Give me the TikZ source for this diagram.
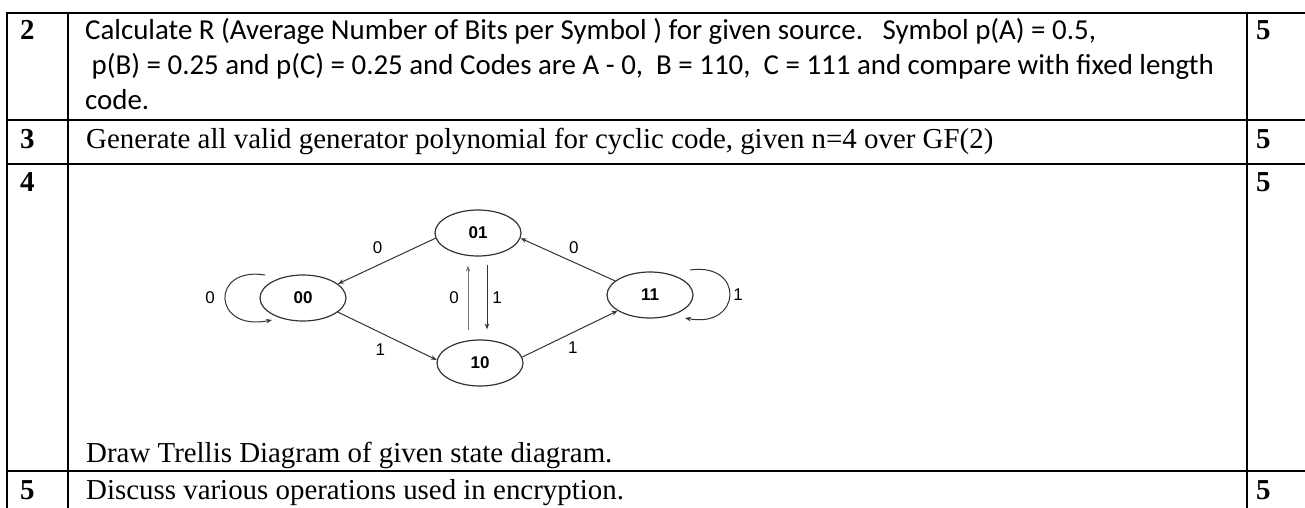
\documentclass[tikz,border=0pt]{standalone}
\usepackage{fontspec}
\setmainfont{Liberation Serif}
\newfontfamily\calfont{Carlito}
\newfontfamily\arialfont{Liberation Sans}
\usetikzlibrary{arrows.meta,shapes.geometric}

\begin{document}
\begin{tikzpicture}[x=1pt,y=-1pt,
  rule/.style={line width=1.6pt, black},
  num/.style={anchor=base west, inner sep=0pt, font=\fontsize{28.9}{34}\selectfont\bfseries},
  serif/.style={anchor=base west, inner sep=0pt, font=\fontsize{28.9}{34}\selectfont},
  calib/.style={anchor=base west, inner sep=0pt, font=\calfont\fontsize{28.9}{35}\selectfont},
  state/.style={ellipse, draw=black!80, line width=1.2pt, minimum width=86pt,
    minimum height=46pt, inner sep=0pt, font=\arialfont\bfseries\fontsize{17}{17}\selectfont},
  edge/.style={draw=black!80, line width=1pt, -{Stealth[length=6pt,width=4.5pt]}},
  lbl/.style={inner sep=0pt, font=\arialfont\fontsize{17}{17}\selectfont}]
\useasboundingbox (0,0) rectangle (1305,508);
\fill[white] (0,0) rectangle (1305,508);

% table rules
\draw[rule] (6,13) -- (1306,13);
\draw[rule] (6,120) -- (1306,120);
\draw[rule] (6,164) -- (1306,164);
\draw[rule] (6,471) -- (1306,471);
\draw[rule] (7,12) -- (7,510);
\draw[rule] (68,12) -- (68,510);
\draw[rule] (1247,12) -- (1247,510);

% question numbers and marks
\node[num] (q2) at (20,40) {2};
\node[num] (q3) at (20,148) {3};
\node[num] (q4) at (20,191) {4};
\node[num] (q5) at (20,499) {5};
\node[num] (m2) at (1256,40) {5};
\node[num] (m3) at (1256,148) {5};
\node[num] (m4) at (1256,191) {5};
\node[num] (m5) at (1256,499) {5};

% question texts
\node[calib] (t2a) at (85,40) {Calculate R (Average Number of Bits per Symbol ) for given source.\ \ \ Symbol p(A) = 0.5,};
\node[calib] (t2b) at (85,75) {\ p(B) = 0.25 and p(C) = 0.25 and Codes are A - 0,\ \ B = 110,\ \ C = 111 and compare with fixed length};
\node[calib] (t2c) at (85,110) {code.};
\node[serif] (t3) at (86,148) {Generate all valid generator polynomial for cyclic code, given n=4 over GF(2)};
\node[serif] (t4) at (86,462) {Draw Trellis Diagram of given state diagram.};
\node[serif] (t5) at (86,499) {Discuss various operations used in encryption.};

% state diagram
\node[state] (s00) at (303,298) {00};
\node[state] (s01) at (478,233) {01};
\node[state] (s10) at (480,363) {10};
\node[state] (s11) at (650,295) {11};

\draw[edge] (s01.187) -- node[lbl, midway, shift={(-9,-13)}] {0} (s00.22);
\draw[edge] (s00.338) -- node[lbl, midway, shift={(-7,14)}] {1} (s10.176);
\draw[edge] (s11.158) -- node[lbl, midway, shift={(6,-12)}] {0} (s01.353);
\draw[edge] (s10.8) -- node[lbl, midway, shift={(3,14)}] {1} (s11.206);

% transitions between 01 and 10
\draw[edge, draw=black!55, shorten <=9pt, shorten >=9pt]
  ([xshift=-12pt]s10.north) -- ([xshift=-12pt]s10.north |- s01.south)
  node[lbl, midway, shift={(-14,0)}] {0};
\draw[edge, shorten <=8pt, shorten >=10pt]
  ([xshift=9pt]s01.south) -- ([xshift=9pt]s01.south |- s10.north)
  node[lbl, midway, shift={(10,0)}] {1};

% self loops
\draw[edge] ([shift={(-38,-23)}]s00.center) .. controls +(-55,-9) and +(-60,12) .. ([shift={(-31,22)}]s00.center);
\node[lbl] (l00) at ([shift={(-93,0)}]s00.center) {0};
\draw[edge] ([shift={(40,-25)}]s11.center) .. controls +(55,-8) and +(57,11) .. ([shift={(35,23)}]s11.center);
\node[lbl] (l11) at ([shift={(88,0)}]s11.center) {1};
\end{tikzpicture}
\end{document}
